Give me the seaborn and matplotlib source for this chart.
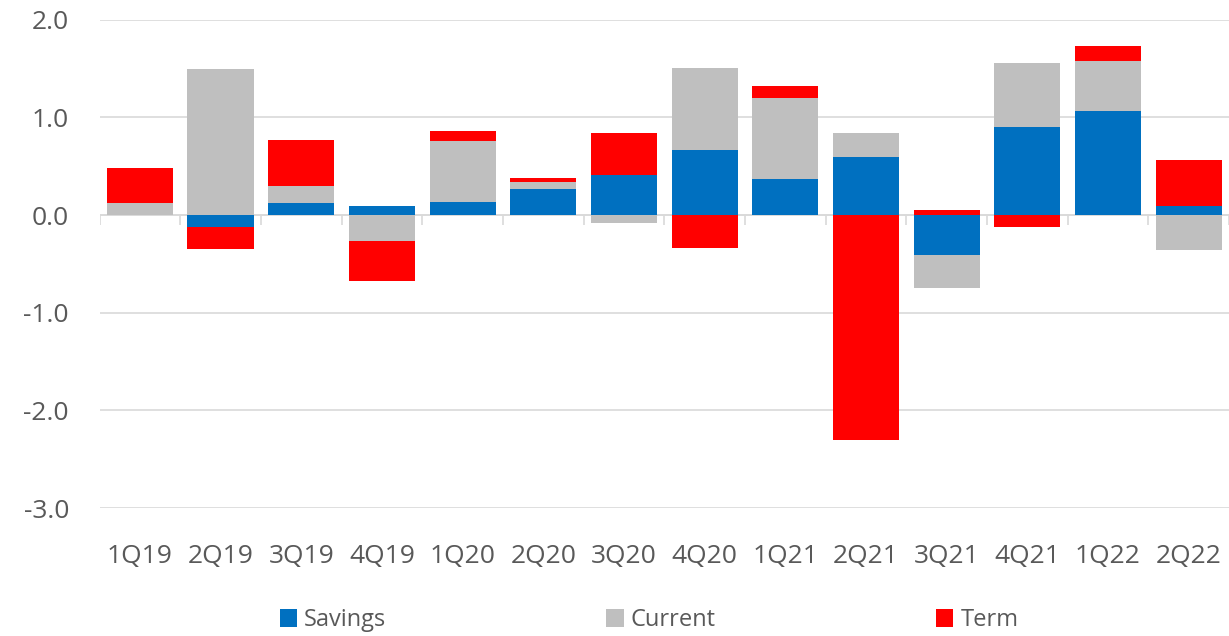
import numpy as np
import pandas as pd
import matplotlib
matplotlib.use("Agg")
import matplotlib.pyplot as plt
import seaborn as sns
from matplotlib.patches import Patch

quarters = ["1Q19", "2Q19", "3Q19", "4Q19", "1Q20", "2Q20", "3Q20",
            "4Q20", "1Q21", "2Q21", "3Q21", "4Q21", "1Q22", "2Q22"]
savings = [0.0, -0.12, 0.12, 0.09, 0.13, 0.27, 0.41,
           0.67, 0.37, 0.59, -0.41, 0.90, 1.07, 0.09]
current = [0.12, 1.50, 0.18, -0.27, 0.63, 0.07, -0.08,
           0.84, 0.83, 0.25, -0.34, 0.66, 0.51, -0.36]
term = [0.36, -0.23, 0.47, -0.40, 0.10, 0.04, 0.43,
        -0.34, 0.12, -2.30, 0.05, -0.12, 0.15, 0.47]

series = [("Savings", savings, "#0070C0"),
          ("Current", current, "#BFBFBF"),
          ("Term", term, "#FF0000")]

sns.set_theme(style="white")
plt.rcParams["font.family"] = ["Open Sans", "DejaVu Sans"]

fig = plt.figure(figsize=(12.29, 6.36), dpi=100)
ax = fig.add_axes([0.081, 0.201, 0.919, 0.768])

# stack positives and negatives separately, like Excel does
pos_base = np.zeros(len(quarters))
neg_base = np.zeros(len(quarters))
for name, vals, color in series:
    v = np.asarray(vals, dtype=float)
    bottom = np.where(v >= 0, pos_base, neg_base)
    df = pd.DataFrame({"quarter": quarters, "value": v})
    sns.barplot(data=df, x="quarter", y="value", order=quarters,
                color=color, saturation=1, width=0.82, errorbar=None,
                bottom=bottom, linewidth=0, ax=ax)
    pos_base = pos_base + np.where(v >= 0, v, 0)
    neg_base = neg_base + np.where(v < 0, v, 0)

ax.set_ylim(-3.0, 2.0)
ax.set_xlim(-0.5, len(quarters) - 0.5)
ax.set_yticks(np.arange(-3, 2.01, 1.0))
ax.set_yticklabels([f"{t:.1f}" for t in np.arange(-3, 2.01, 1.0)])
ax.yaxis.grid(True, color="#D9D9D9", linewidth=1.2)
ax.set_axisbelow(True)
for s in ax.spines.values():
    s.set_visible(False)

ax.axhline(0, color="#D9D9D9", linewidth=1.2, zorder=0.5)
ax.vlines(np.arange(len(quarters) + 1) - 0.5, 0, -0.1,
          color="#D9D9D9", linewidth=1.2, zorder=0.5)

ax.set_xlabel("")
ax.set_ylabel("")
ax.tick_params(axis="x", length=0, pad=26, labelsize=19, labelcolor="#595959")
ax.tick_params(axis="y", length=0, pad=22, labelsize=19, labelcolor="#595959")

handles = [Patch(facecolor=c, edgecolor="none", label=n) for n, _, c in series]
fig.legend(handles=handles, loc="center", bbox_to_anchor=(0.528, 0.025),
           ncol=3, frameon=False, fontsize=17, handlelength=0.75,
           handleheight=0.75, handletextpad=0.3, columnspacing=9.3,
           labelcolor="#595959")

fig.savefig("out.png", dpi=100)
